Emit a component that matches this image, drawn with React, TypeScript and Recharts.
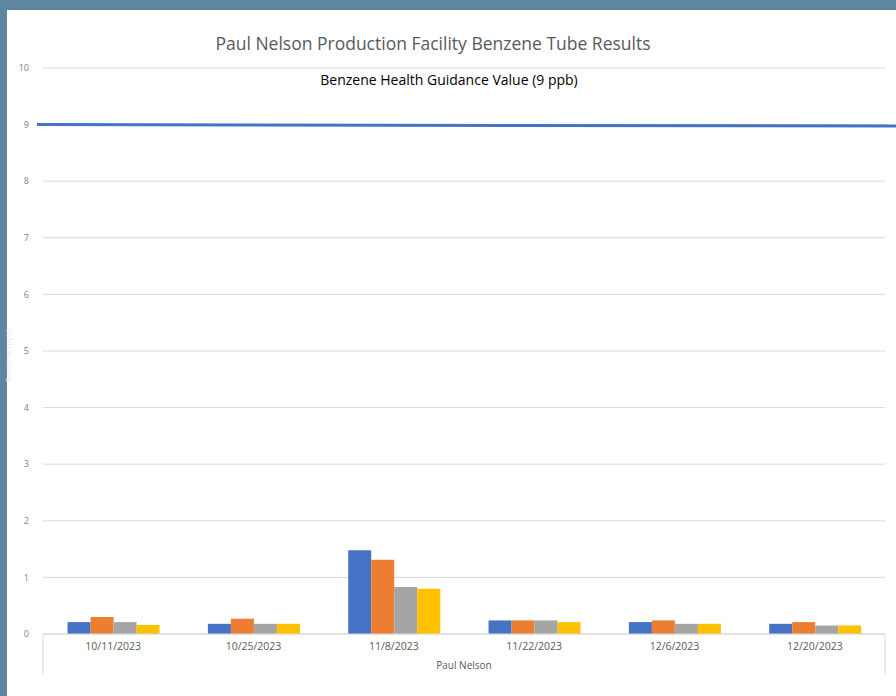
import React from 'react'
import { BarChart, Bar, XAxis, YAxis, CartesianGrid, ReferenceLine } from 'recharts'

const dates = ['10/11/2023', '10/25/2023', '11/8/2023', '11/22/2023', '12/6/2023', '12/20/2023']
const tube1 = [0.21, 0.18, 1.48, 0.24, 0.21, 0.18]
const tube2 = [0.3, 0.27, 1.31, 0.24, 0.24, 0.21]
const tube3 = [0.21, 0.18, 0.83, 0.24, 0.18, 0.15]
const tube4 = [0.16, 0.18, 0.8, 0.21, 0.18, 0.15]
const yTicks = [0, 1, 2, 3, 4, 5, 6, 7, 8, 9, 10]
const guidanceValue = 9

const data = dates.map((date, i) => ({
  date,
  tube1: tube1[i],
  tube2: tube2[i],
  tube3: tube3[i],
  tube4: tube4[i],
}))

const font = 'Open Sans, Liberation Sans, sans-serif'
const PANEL_W = 889
const PANEL_H = 686

const GuidanceLine = (props: any) => {
  const { x1, x2, y1 } = props
  return (
    <g>
      <line x1={x1 - 6} y1={y1} x2={PANEL_W} y2={y1 + 1.5} stroke="#4472c4" strokeWidth={3} />
      <text
        x={(x1 + x2) / 2 - 15}
        y={y1 - 40}
        textAnchor="middle"
        fontSize={14}
        fill="#000"
        fontFamily={font}
      >
        Benzene Health Guidance Value (9 ppb)
      </text>
    </g>
  )
}

const CategoryFrame = (props: any) => {
  const { x1, x2, y1 } = props
  return (
    <g stroke="#d9d9d9" strokeWidth={1}>
      <line x1={x1} y1={y1} x2={x1} y2={y1 + 41} />
      <line x1={x2} y1={y1} x2={x2} y2={y1 + 41} />
    </g>
  )
}

export default function App() {
  return (
    <div style={{ position: 'fixed', left: 0, top: 0, width: 896, height: 696, background: '#5e86a1', overflow: 'hidden' }}>
      <div style={{ position: 'absolute', left: 7, top: 10, width: PANEL_W, height: PANEL_H, background: '#fff' }}>
        <div
          style={{
            position: 'absolute',
            left: 0,
            width: 852,
            top: 21,
            textAlign: 'center',
            fontFamily: font,
            fontSize: 17.5,
            color: '#595959',
          }}
        >
          Paul Nelson Production Facility Benzene Tube Results
        </div>
        <div
          style={{
            position: 'absolute',
            left: -40,
            top: 340,
            width: 80,
            textAlign: 'center',
            transform: 'rotate(-90deg)',
            fontFamily: font,
            fontSize: 8,
            color: '#e8e8e8',
          }}
        >
          Benzene (ppb)
        </div>
        <BarChart
          width={PANEL_W}
          height={PANEL_H}
          data={data}
          margin={{ top: 58, right: 11, left: 6, bottom: 10 }}
          barCategoryGap="17.5%"
          barGap={0}
        >
          <CartesianGrid vertical={false} stroke="#d9d9d9" />
          <XAxis
            dataKey="date"
            height={52}
            axisLine={{ stroke: '#d9d9d9' }}
            tickLine={false}
            tick={{ fontSize: 10.5, fill: '#595959', fontFamily: font }}
            tickMargin={3}
            label={{ value: 'Paul Nelson', position: 'insideTop', offset: 28, fontSize: 10, fill: '#595959', fontFamily: font }}
          />
          <YAxis
            width={30}
            domain={[0, 10]}
            ticks={yTicks}
            axisLine={false}
            tickLine={false}
            tickMargin={8}
            tick={{ fontSize: 9, fill: '#7f7f7f', fontFamily: font }}
          />
          <Bar dataKey="tube1" fill="#4472c4" isAnimationActive={false} />
          <Bar dataKey="tube2" fill="#ed7d31" isAnimationActive={false} />
          <Bar dataKey="tube3" fill="#a5a5a5" isAnimationActive={false} />
          <Bar dataKey="tube4" fill="#ffc000" isAnimationActive={false} />
          <ReferenceLine y={0} stroke="none" shape={(p: any) => <CategoryFrame {...p} />} />
          <ReferenceLine y={guidanceValue} shape={(p: any) => <GuidanceLine {...p} />} />
        </BarChart>
      </div>
    </div>
  )
}
